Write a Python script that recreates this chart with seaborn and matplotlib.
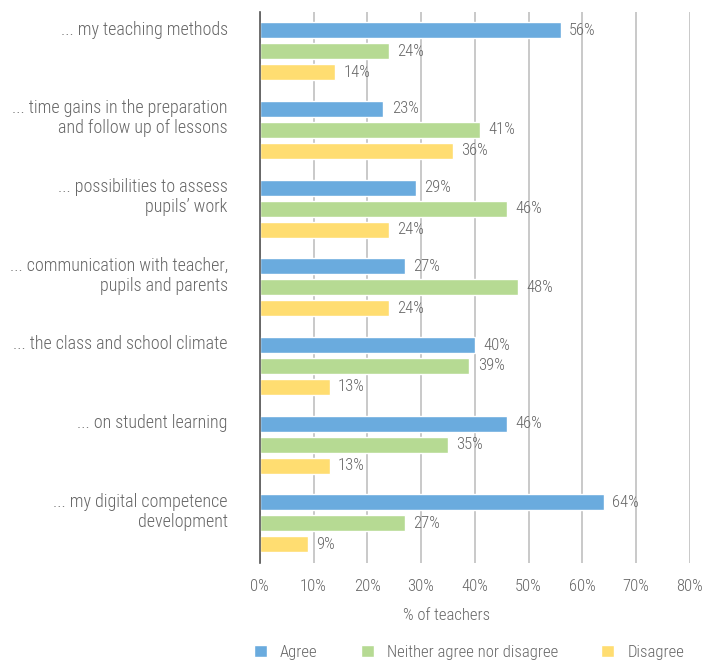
import numpy as np
import pandas as pd
import seaborn as sns
from matplotlib import pyplot as plt
from matplotlib import ticker as ticktools

# values
categories = ["... my teaching methods",
              "... time gains in the preparation\nand follow up of lessons",
              "... possibilities to assess\npupils\u2019 work",
              "... communication with teacher,\npupils and parents",
              "... the class and school climate",
              "... on student learning",
              "... my digital competence\ndevelopment"]
series_names = ["Agree", "Neither agree nor disagree", "Disagree"]
agree = [56, 23, 29, 27, 40, 46, 64]
neither = [24, 41, 46, 48, 39, 35, 27]
disagree = [14, 36, 24, 24, 13, 13, 9]
x_ticks = [0, 10, 20, 30, 40, 50, 60, 70, 80]

colors = ["#6AABDE", "#B6DA93", "#FFDD71"]
text_grey = "#666666"

rows = []
for series, values in zip(series_names, [agree, neither, disagree]):
    for cat, v in zip(categories, values):
        rows.append({"category": cat, "answer": series, "pct": v})
df = pd.DataFrame(rows)

sns.set_style("white")
plt.rcParams['font.family'] = ['Roboto Condensed', 'DejaVu Sans']
plt.rcParams['font.weight'] = 'light'
plt.rcParams['axes.labelweight'] = 'light'

fig = plt.figure(figsize=(7.06, 6.62), dpi=100)
ax = fig.add_axes([0.368, 0.150, 0.609, 0.832])

sns.barplot(data=df, y="category", x="pct", hue="answer", orient="h",
            palette=colors, order=categories, hue_order=series_names,
            gap=0.23, width=0.8, saturation=1, ax=ax)

# data labels
for cont, values in zip(ax.containers, [agree, neither, disagree]):
    ax.bar_label(cont, labels=[f"{v}%" for v in values], padding=6,
                 fontsize=12, color=text_grey)

ax.set_xlim(0, 80)
ax.set_ylim(6.5, -0.5)
ax.set_xticks(x_ticks)
ax.xaxis.set_major_formatter(ticktools.FuncFormatter(lambda v, p: f"{v:.0f}%"))
ax.tick_params(axis="x", length=5, color="#c0c0c0", labelsize=12,
               labelcolor=text_grey, pad=7)
ax.grid(axis="x", color="#c0c0c0", linewidth=1.2)
ax.set_axisbelow(True)

# category labels sit at the top of each group
ax.set_yticks(np.arange(len(categories)) - 0.39)
ax.set_yticklabels(categories, va="top", ha="right", linespacing=1.15)
ax.tick_params(axis="y", length=0, pad=23, labelsize=13, labelcolor=text_grey)

for side in ["top", "right", "bottom"]:
    ax.spines[side].set_visible(False)
ax.spines["left"].set_color("#555555")
ax.spines["left"].set_linewidth(1.2)

ax.set_ylabel("")
ax.set_xlabel("% of teachers", fontsize=12, color=text_grey)
ax.xaxis.set_label_coords(0.435, -0.083)

sns.move_legend(ax, "center", bbox_to_anchor=(0.487, -0.163), ncol=3,
                title=None, frameon=False, fontsize=12, handlelength=0.75,
                handleheight=0.75, columnspacing=2.6, handletextpad=0.8)
for t in ax.get_legend().get_texts():
    t.set_color(text_grey)

fig.savefig("out.png", dpi=100)
